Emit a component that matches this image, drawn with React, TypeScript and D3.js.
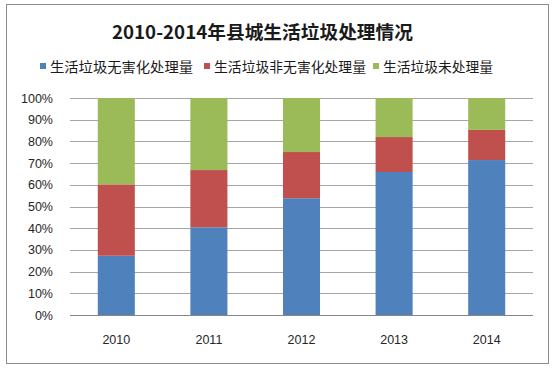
import * as d3 from "d3";
import React, { RefObject, useEffect, useRef } from "react";

const years = ["2010", "2011", "2012", "2013", "2014"];
const seriesNames = ["生活垃圾无害化处理量", "生活垃圾非无害化处理量", "生活垃圾未处理量"];
const harmless = [27.3, 40.4, 53.8, 65.9, 71.4];
const nonHarmless = [32.9, 26.4, 21.3, 16.1, 13.9];
const untreated = [39.8, 33.2, 24.9, 18.0, 14.7];
const colors = ["#4f81bd", "#c0504d", "#9bbb59"];
const yTicks = [0, 0.1, 0.2, 0.3, 0.4, 0.5, 0.6, 0.7, 0.8, 0.9, 1];

const width = 554;
const height = 370;
const font = "'Noto Sans CJK SC', 'Noto Sans', sans-serif";

const App = () => {
  const d3Ref: RefObject<HTMLDivElement> = useRef(null);

  const drawChart = () => {
    d3.select(d3Ref.current).selectAll("*").remove();
    const svg = d3
      .select(d3Ref.current)
      .append("svg")
      .attr("width", width)
      .attr("height", height)
      .style("display", "block");

    svg.append("rect").attr("width", width).attr("height", height).attr("fill", "#fff");
    svg
      .append("rect")
      .attr("x", 6.5)
      .attr("y", 4.5)
      .attr("width", 542)
      .attr("height", 359)
      .attr("fill", "#fff")
      .attr("stroke", "#8c8c8c");

    // title
    svg
      .append("text")
      .attr("x", 262.5)
      .attr("y", 39)
      .attr("text-anchor", "middle")
      .attr("font-family", font)
      .attr("font-weight", "bold")
      .attr("font-size", 18.5)
      .attr("fill", "#1a1a1a")
      .attr("textLength", 301)
      .attr("lengthAdjust", "spacingAndGlyphs")
      .text("2010-2014年县城生活垃圾处理情况");

    // legend
    const legendX = [40, 204, 373];
    const legendW = [143, 152, 110];
    const legend = svg.append("g");
    seriesNames.forEach((name, i) => {
      legend
        .append("rect")
        .attr("x", legendX[i])
        .attr("y", 63)
        .attr("width", 6)
        .attr("height", 6)
        .attr("fill", colors[i]);
      legend
        .append("text")
        .attr("x", legendX[i] + 10)
        .attr("y", 72)
        .attr("font-family", font)
        .attr("font-size", 13.5)
        .attr("fill", "#1a1a1a")
        .attr("textLength", legendW[i])
        .attr("lengthAdjust", "spacingAndGlyphs")
        .text(name);
    });

    const left = 70;
    const right = 533;
    const top = 98;
    const bottom = 315;

    const x = d3.scaleBand().domain(years).range([left, right]).paddingInner(0.6).paddingOuter(0.3);
    const y = d3.scaleLinear().domain([0, 1]).range([bottom, top]);

    // grid
    svg
      .append("g")
      .selectAll("line")
      .data(yTicks)
      .enter()
      .append("line")
      .attr("x1", left)
      .attr("x2", right)
      .attr("y1", (d) => Math.round(y(d)) + 0.5)
      .attr("y2", (d) => Math.round(y(d)) + 0.5)
      .attr("stroke", (d) => (d === 0 ? "#868686" : "#a6a6a6"))
      .attr("stroke-width", 1);

    svg
      .append("g")
      .selectAll("text")
      .data(yTicks)
      .enter()
      .append("text")
      .attr("x", 53)
      .attr("y", (d) => y(d) + 4.5)
      .attr("text-anchor", "end")
      .attr("font-family", "'Liberation Sans', sans-serif")
      .attr("font-size", 12.5)
      .attr("fill", "#262626")
      .text((d) => d3.format(".0%")(d));

    const table = years.map((yr, i) => ({
      year: yr,
      a: harmless[i],
      b: nonHarmless[i],
      c: untreated[i],
    }));
    const stack = d3.stack<any>().keys(["a", "b", "c"]).offset(d3.stackOffsetExpand);
    const layers = stack(table);

    layers.forEach((layer, i) => {
      svg
        .append("g")
        .selectAll("rect")
        .data(layer)
        .enter()
        .append("rect")
        .attr("x", (d: any) => x(d.data.year) as number)
        .attr("width", x.bandwidth())
        .attr("y", (d) => y(d[1]))
        .attr("height", (d) => y(d[0]) - y(d[1]))
        .attr("fill", colors[i]);
    });

    svg
      .append("g")
      .selectAll("text")
      .data(years)
      .enter()
      .append("text")
      .attr("x", (d) => (x(d) as number) + x.bandwidth() / 2)
      .attr("y", 344)
      .attr("text-anchor", "middle")
      .attr("font-family", "'Liberation Sans', sans-serif")
      .attr("font-size", 12.5)
      .attr("fill", "#262626")
      .text((d) => d);
  };

  useEffect(() => {
    drawChart();
  }, [d3Ref]);

  return <div ref={d3Ref} style={{ position: "absolute", left: 0, top: 0 }} />;
};

export default App;
